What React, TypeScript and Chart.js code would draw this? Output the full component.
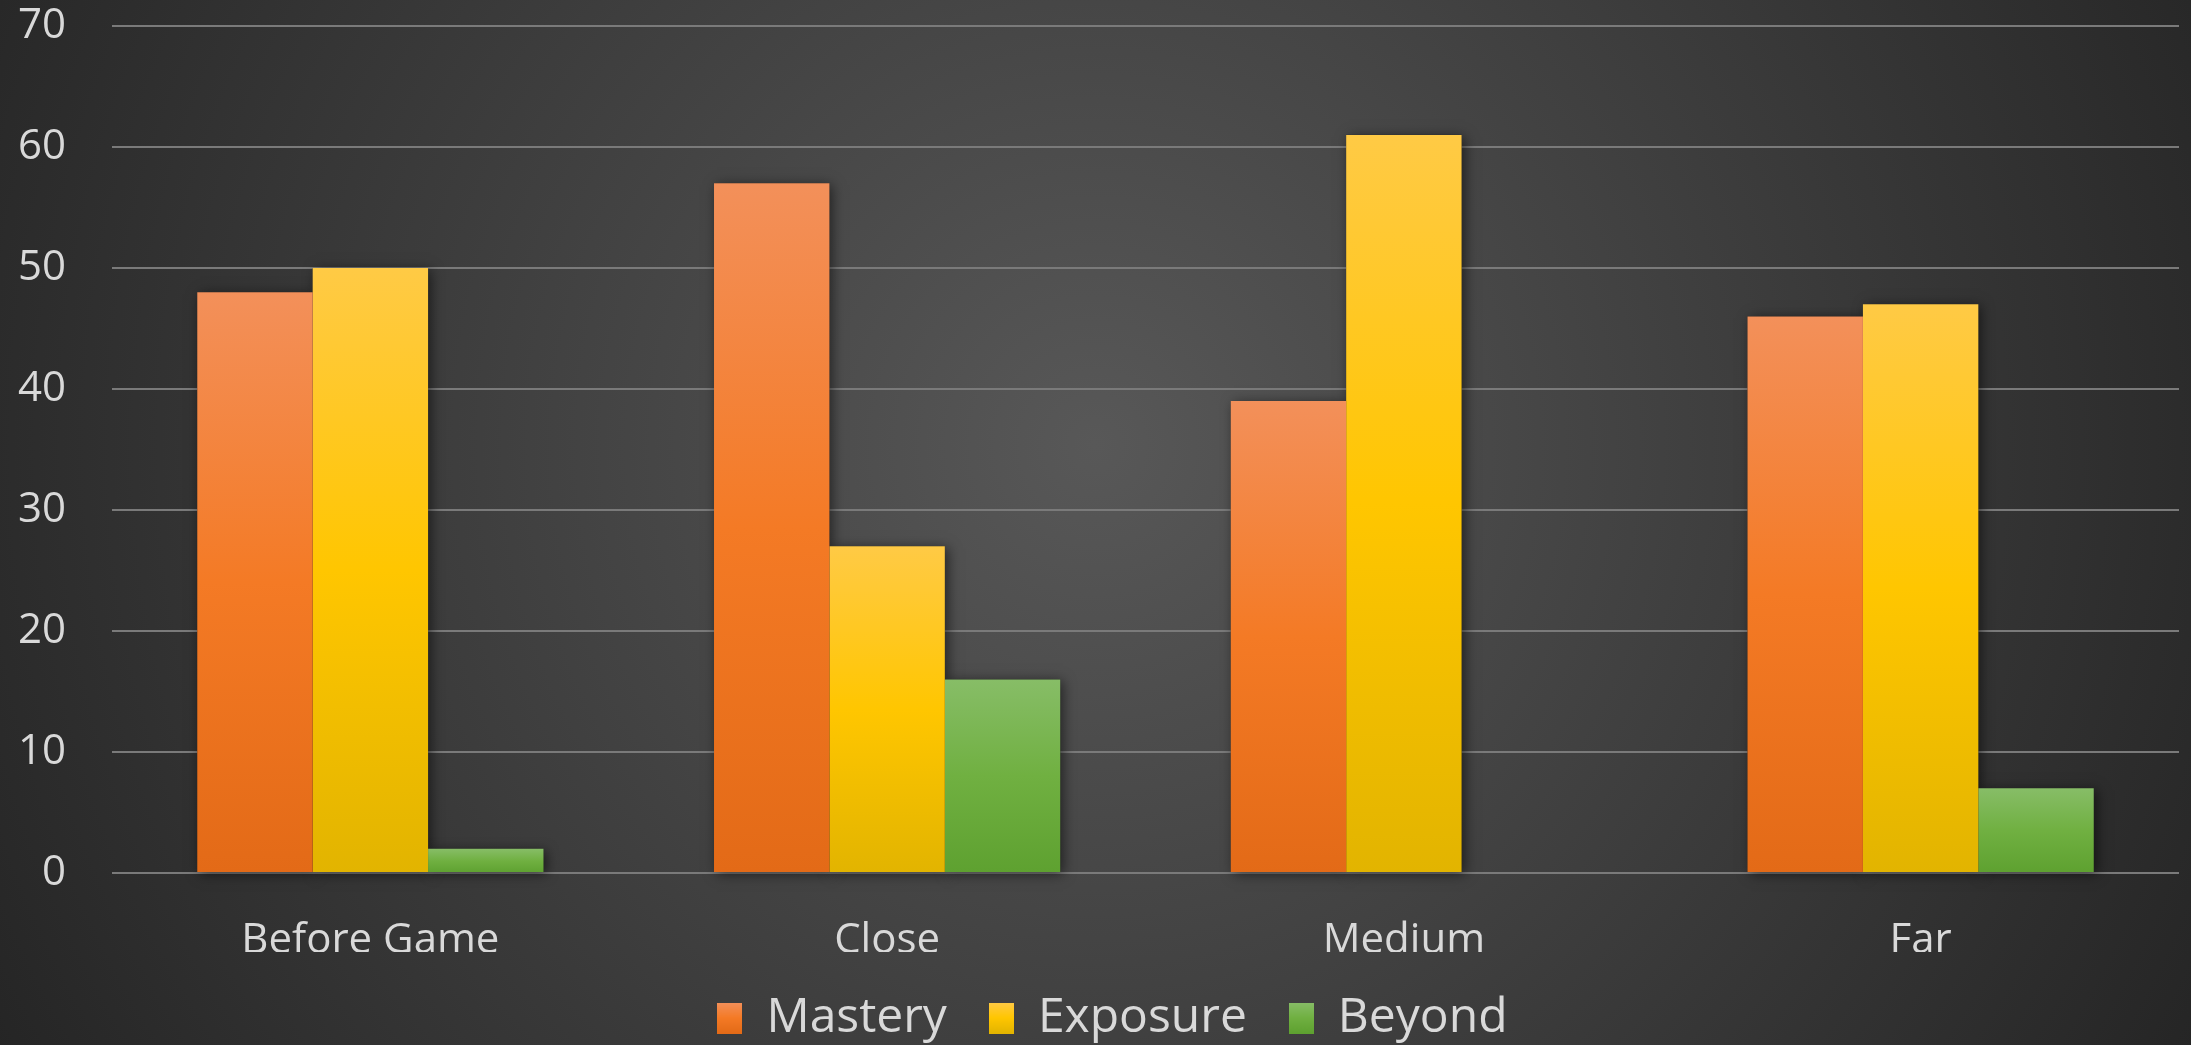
import React, { useEffect, useRef } from "react";
import { Chart, registerables } from "chart.js";

Chart.register(...registerables);

const categories = ["Before Game", "Close", "Medium", "Far"];
const seriesNames = ["Mastery", "Exposure", "Beyond"];
const masteryValues = [48, 57, 39, 46];
const exposureValues = [50, 27, 61, 47];
const beyondValues = [2, 16, 0, 7];
const yTicks = [0, 10, 20, 30, 40, 50, 60, 70];

const gradientStops: string[][] = [
  ["#F3905A", "#F47A25", "#E36A17"],
  ["#FFCA45", "#FFC600", "#E2B400"],
  ["#87BD67", "#70B041", "#5EA130"],
];

const FONT = "'Open Sans', 'Noto Sans', sans-serif";
const TEXT = "#D9D9D9";

function barGradient(idx: number) {
  return (ctx: any) => {
    const chart = ctx.chart;
    const stops = gradientStops[idx];
    if (!chart.chartArea || ctx.type !== "data" || !chart.scales.y) return stops[1];
    const v = ctx.parsed ? ctx.parsed.y : ctx.raw;
    const top = chart.scales.y.getPixelForValue(v);
    const bottom = chart.scales.y.getPixelForValue(0);
    if (!isFinite(top) || !isFinite(bottom) || Math.abs(bottom - top) < 1) return stops[1];
    const g = chart.ctx.createLinearGradient(0, top, 0, bottom);
    g.addColorStop(0, stops[0]);
    g.addColorStop(0.5, stops[1]);
    g.addColorStop(1, stops[2]);
    return g;
  };
}

function legendSwatch(idx: number, w: number, h: number) {
  const c = document.createElement("canvas");
  c.width = w;
  c.height = h;
  const cx = c.getContext("2d");
  if (cx) {
    const g = cx.createLinearGradient(0, 0, 0, h);
    const s = gradientStops[idx];
    g.addColorStop(0, s[0]);
    g.addColorStop(0.5, s[1]);
    g.addColorStop(1, s[2]);
    cx.fillStyle = g;
    cx.fillRect(0, 0, w, h);
  }
  return c;
}

const backgroundPlugin = {
  id: "bgRadial",
  beforeDraw(chart: any) {
    const { ctx, width, height } = chart;
    ctx.save();
    const cx = width * 0.5;
    const cy = height * 0.42;
    const r = Math.hypot(width * 0.5, height * 0.58);
    const g = ctx.createRadialGradient(cx, cy, 0, cx, cy, r);
    g.addColorStop(0, "#585858");
    g.addColorStop(1, "#252525");
    ctx.fillStyle = g;
    ctx.fillRect(0, 0, width, height);
    ctx.restore();
  },
};

const legendShiftPlugin = {
  id: "legendShift",
  afterLayout(chart: any) {
    const l = chart.legend;
    if (!l) return;
    l.left += 23;
    l.right += 23;
  },
};

const shadowPlugin = {
  id: "barShadow",
  beforeDatasetsDraw(chart: any) {
    const { ctx } = chart;
    chart.data.datasets.forEach((_: any, i: number) => {
      const meta = chart.getDatasetMeta(i);
      if (meta.hidden) return;
      meta.data.forEach((bar: any) => {
        const top = Math.min(bar.y, bar.base);
        const h = Math.abs(bar.base - bar.y);
        if (h < 1) return;
        ctx.save();
        ctx.shadowColor = "rgba(0,0,0,0.55)";
        ctx.shadowBlur = 12;
        ctx.shadowOffsetX = 3;
        ctx.shadowOffsetY = 2;
        ctx.fillStyle = "#222";
        ctx.fillRect(bar.x - bar.width / 2, top, bar.width, h);
        ctx.restore();
      });
    });
  },
};

export default function App() {
  const ref = useRef<HTMLCanvasElement | null>(null);
  useEffect(() => {
    if (!ref.current) return;
    const seriesValues = [masteryValues, exposureValues, beyondValues];
    const swatches = seriesNames.map((_, i) => legendSwatch(i, 25, 31));
    const chart = new Chart(ref.current, {
      type: "bar",
      data: {
        labels: categories,
        datasets: seriesNames.map((name, i) => ({
          label: name,
          data: seriesValues[i],
          backgroundColor: barGradient(i),
          borderWidth: 0,
          categoryPercentage: 0.67,
          barPercentage: 1.0,
        })),
      },
      options: {
        responsive: false,
        animation: false,
        layout: { padding: { top: 26, right: 12, left: 0, bottom: 8 } },
        plugins: {
          tooltip: { enabled: false },
          legend: {
            position: "bottom",
            labels: {
              color: TEXT,
              font: { family: FONT, size: 48 },
              boxWidth: 25,
              boxHeight: 31,
              usePointStyle: true,
              pointStyleWidth: 25,
              padding: 42,
              generateLabels: (chart: any) =>
                chart.data.datasets.map((ds: any, i: number) => ({
                  text: ds.label,
                  fillStyle: gradientStops[i][1],
                  strokeStyle: gradientStops[i][1],
                  lineWidth: 0,
                  pointStyle: swatches[i],
                  fontColor: TEXT,
                  hidden: false,
                  datasetIndex: i,
                })),
            },
          },
        },
        scales: {
          x: {
            grid: { display: false },
            border: { display: false },
            ticks: { color: TEXT, font: { family: FONT, size: 42 }, padding: 35 },
            afterFit: (s: any) => {
              s.height = 79;
            },
          },
          y: {
            min: 0,
            max: 70,
            afterBuildTicks: (s: any) => {
              s.ticks = yTicks.map((v) => ({ value: v }));
            },
            grid: { color: "#7A7A7A", lineWidth: 2, drawTicks: false },
            border: { display: false },
            ticks: { color: TEXT, font: { family: FONT, size: 42 }, padding: 46 },
            afterFit: (s: any) => {
              s.width = 112;
              s.paddingTop = 0;
              s.paddingBottom = 0;
            },
          },
        },
      },
      plugins: [backgroundPlugin, legendShiftPlugin, shadowPlugin],
    });
    return () => chart.destroy();
  }, []);
  return (
    <div style={{ position: "absolute", left: 0, top: 0, width: 2191, height: 1045, overflow: "hidden" }}>
      <canvas ref={ref} width={2191} height={1060} style={{ display: "block" }} />
    </div>
  );
}
